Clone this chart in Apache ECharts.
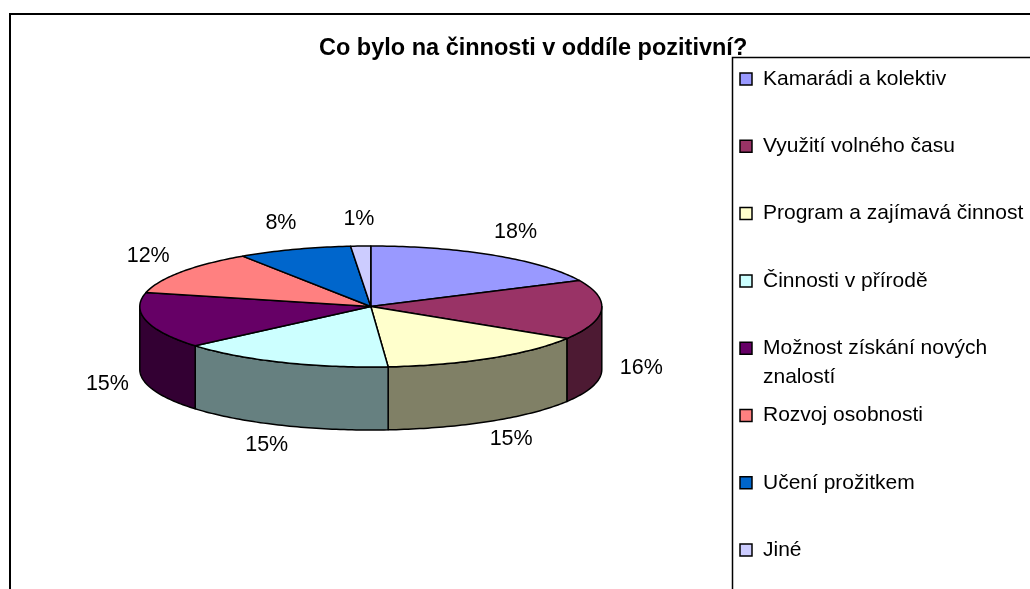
<!DOCTYPE html>
<html>
<head>
<meta charset="utf-8">
<title>Co bylo na činnosti v oddíle pozitivní?</title>
<script src="https://cdn.jsdelivr.net/npm/echarts@6/dist/echarts.min.js"></script>
<style>
  html, body { margin: 0; padding: 0; background: #fff; }
  #chart { width: 1030px; height: 589px; }
</style>
</head>
<body>
<div id="chart"></div>
<script>
// chart data
var categories = [
  'Kamarádi a kolektiv',
  'Využití volného času',
  'Program a zajímavá činnost',
  'Činnosti v přírodě',
  'Možnost získání nových znalostí',
  'Rozvoj osobnosti',
  'Učení prožitkem',
  'Jiné'
]
var values = [18, 16, 15, 15, 15, 12, 8, 1.4]
var colors = ['#9999FF', '#993366', '#FFFFCC', '#CCFFFF', '#660066', '#FF8080', '#0066CC', '#CCCCFF']

var FONT = 'Arial, "Liberation Sans", sans-serif'

// pie geometry (flattened 3d disc)
var CX = 370.8
var CY = 306.5
var RX = 231
var RY = 60.5
var DEPTH = 63

var total = values.reduce(function(a, b) { return a + b }, 0)
var starts = []
var acc = 0
values.forEach(function(v) { starts.push(acc); acc += v })

function pt(a, dy) {
  return [CX + RX * Math.sin(a), CY - RY * Math.cos(a) + (dy || 0)]
}

function arc(a0, a1, dy) {
  var n = Math.max(2, Math.ceil((a1 - a0) / (Math.PI / 180)))
  var out = []
  for (var i = 0; i <= n; i++) {
    out.push(pt(a0 + (a1 - a0) * i / n, dy))
  }
  return out
}

function darken(hex) {
  var n = parseInt(hex.slice(1), 16)
  var r = Math.round(((n >> 16) & 255) / 2)
  var g = Math.round(((n >> 8) & 255) / 2)
  var b = Math.round((n & 255) / 2)
  return 'rgb(' + r + ',' + g + ',' + b + ')'
}

// word wrap for the legend box
var measureCtx = document.createElement('canvas').getContext('2d')
function wrap(text, font, maxWidth) {
  measureCtx.font = font
  var words = text.split(' ')
  var lines = []
  var line = ''
  words.forEach(function(w) {
    var test = line ? line + ' ' + w : w
    if (line && measureCtx.measureText(test).width > maxWidth) {
      lines.push(line)
      line = w
    } else {
      line = test
    }
  })
  lines.push(line)
  return lines.join('\n')
}

function renderItem(params, api) {
  var i = params.dataIndex
  var v = api.value(0)
  var a0 = starts[i] / total * Math.PI * 2
  var a1 = a0 + v / total * Math.PI * 2
  var children = []

  // visible front wall
  var s0 = Math.max(a0, Math.PI / 2)
  var s1 = Math.min(a1, Math.PI * 1.5)
  if (s1 > s0) {
    var top = arc(s0, s1, 0)
    var bottom = arc(s0, s1, DEPTH).reverse()
    children.push({
      type: 'polygon',
      shape: { points: top.concat(bottom) },
      style: { fill: darken(colors[i]), stroke: '#000', lineWidth: 1.5, lineJoin: 'round' }
    })
  }

  // top face
  children.push({
    type: 'polygon',
    shape: { points: [[CX, CY]].concat(arc(a0, a1, 0)) },
    style: { fill: colors[i], stroke: '#000', lineWidth: 1.5, lineJoin: 'round' }
  })

  // percent label
  var m = (a0 + a1) / 2
  var lx = CX + (RX + 40) * Math.sin(m)
  var ly = CY - (RY + 27.5) * Math.cos(m) + (Math.cos(m) < 0 ? 57 : 0)
  children.push({
    type: 'text',
    x: lx,
    y: ly,
    style: {
      text: Math.round(v / total * 100) + '%',
      fill: '#000',
      fontFamily: FONT,
      fontSize: 21.5,
      align: 'center',
      verticalAlign: 'middle'
    }
  })

  return { type: 'group', children: children }
}

// legend drawn as a boxed list, like the original sheet chart
var legendItems = []
categories.forEach(function(name, i) {
  var y = 79 + i * 67.3
  legendItems.push({
    type: 'rect',
    shape: { x: 740, y: y - 6, width: 12, height: 12 },
    style: { fill: colors[i], stroke: '#000', lineWidth: 1.5 },
    z: 10
  })
  legendItems.push({
    type: 'text',
    x: 763,
    y: y - 14.5,
    style: {
      text: wrap(name, '21px ' + FONT, 285),
      fill: '#000',
      fontFamily: FONT,
      fontSize: 21,
      lineHeight: 29,
      verticalAlign: 'top'
    },
    z: 10
  })
})

var chart = echarts.init(document.getElementById('chart'))
chart.setOption({
  animation: false,
  backgroundColor: '#fff',
  title: {
    text: 'Co bylo na činnosti v oddíle pozitivní?',
    left: 319,
    top: 37,
    padding: 0,
    textStyle: { fontFamily: FONT, fontSize: 23.5, fontWeight: 'bold', color: '#000' }
  },
  graphic: [
    {
      type: 'rect',
      shape: { x: 10, y: 14, width: 1100, height: 700 },
      style: { fill: 'none', stroke: '#000', lineWidth: 2 },
      z: 1
    },
    {
      type: 'rect',
      shape: { x: 732.5, y: 57.5, width: 400, height: 600 },
      style: { fill: '#fff', stroke: '#000', lineWidth: 1.5 },
      z: 5
    }
  ].concat(legendItems),
  series: [
    {
      type: 'custom',
      coordinateSystem: 'none',
      renderItem: renderItem,
      data: values.map(function(v, i) { return { name: categories[i], value: [v] } }),
      z: 3
    }
  ]
})
</script>
</body>
</html>
